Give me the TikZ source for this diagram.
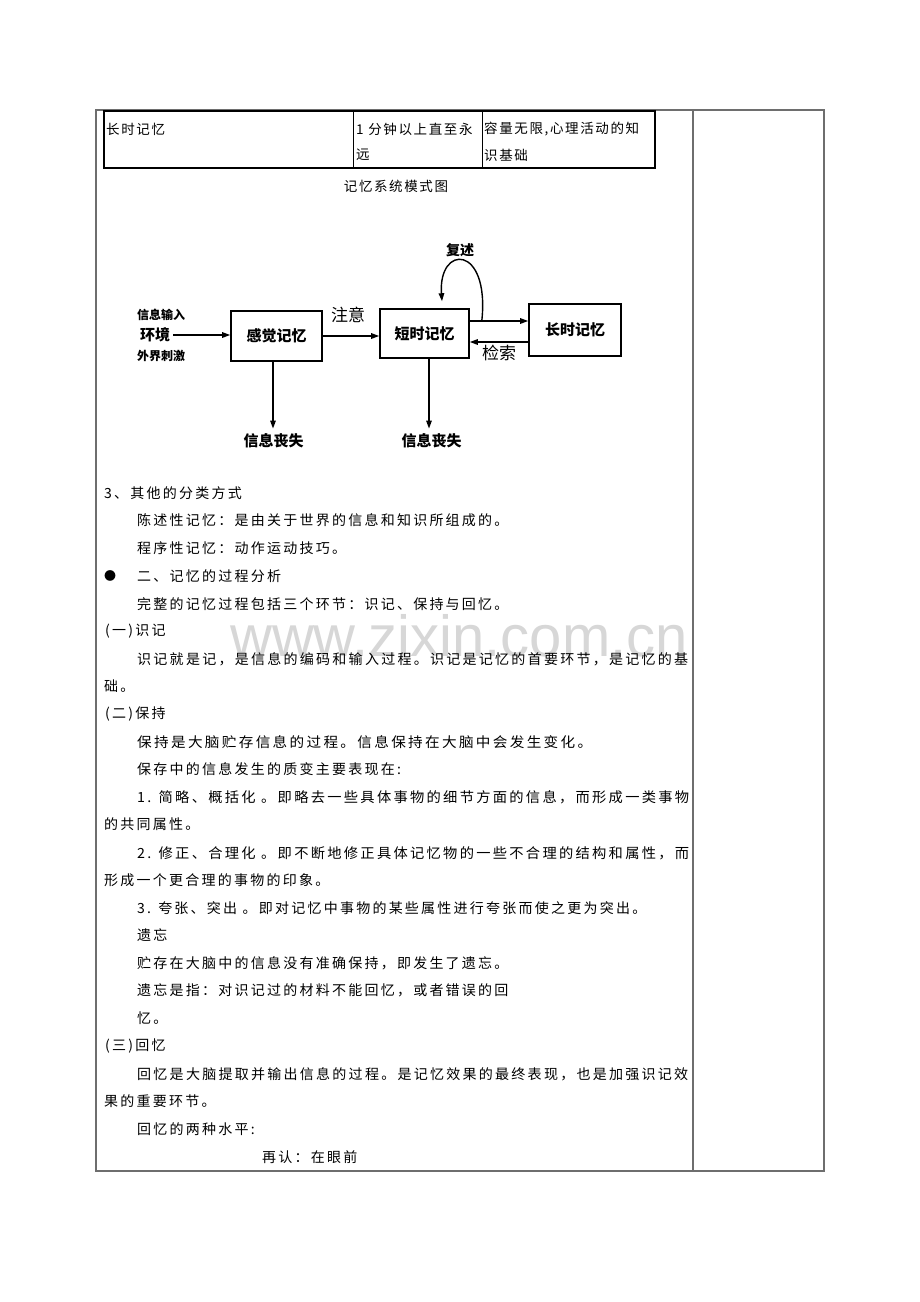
\documentclass[tikz,border=0pt]{standalone}
\usepackage{fontspec}
\usepackage{graphicx}
\setmainfont{Noto Sans CJK SC}
\newfontfamily\bodyf{Noto Sans CJK SC}[LetterSpace=16]
\newfontfamily\cellf{Noto Sans CJK SC}[LetterSpace=12]
\newfontfamily\wmf{Liberation Sans}
\usetikzlibrary{arrows.meta,calc}
\newcommand\jl[2]{\resizebox{#1}{\height}{#2}}
\newcommand\fc{\char"FF0C\relax}
\newcommand\fcl{\char"FF1A\relax}
\definecolor{rule}{RGB}{110,110,110}
\definecolor{wmgray}{RGB}{215,215,215}
\tikzset{
  txt/.style={anchor=west, inner sep=0pt, font=\bodyf\fontsize{14}{14}\selectfont},
  cell/.style={anchor=west, inner sep=0pt, font=\cellf\fontsize{13.5}{13.5}\selectfont},
  membox/.style={draw, line width=1.6pt, inner sep=0pt, font=\bfseries\fontsize{15}{15}\selectfont},
  arr/.style={line width=1.4pt, -{Triangle[length=8pt,width=5.5pt]}},
  lbl/.style={inner sep=0pt, font=\bfseries\fontsize{14}{14}\selectfont},
  biglbl/.style={inner sep=0pt, font=\fontsize{17}{17}\selectfont},
  smalllbl/.style={inner sep=0pt, font=\bfseries\fontsize{12}{12}\selectfont},
}
\begin{document}
\begin{tikzpicture}[x=1pt,y=-1pt]
\fill[white] (0,0) rectangle (920,1302);
\useasboundingbox (0,0) rectangle (920,1302);

% watermark
\node[inner sep=0pt, text=wmgray, font=\wmf\fontsize{58}{58}\selectfont] (wm) at (459,636) {www.zixin.com.cn};

% outer table
\draw[rule, line width=1.2pt] (96,110) rectangle (824,1171);
\draw[rule, line width=1.2pt] (693,110) -- (693,1171);

% inner table
\draw[line width=2.2pt] (104,111) rectangle (655,168);
\draw[line width=1pt] (353,111) -- (353,168);
\draw[line width=1pt] (482,111) -- (482,168);
\node[cell] (c1) at (106,129) {长时记忆};
\node[cell] (c2) at (356,129) {1 分钟以上直至永};
\node[cell] (c2b) at (356,155) {远};
\node[cell] (c3) at (484,129) {容量无限,心理活动的知};
\node[cell] (c3b) at (484,155) {识基础};
\node[cell, anchor=center] (cap) at (396,186) {记忆系统模式图};

% diagram
\node[membox, minimum width=91pt, minimum height=50pt] (sm) at (276.5,336) {感觉记忆};
\node[membox, minimum width=89pt, minimum height=49pt] (stm) at (424.5,333.5) {短时记忆};
\node[membox, minimum width=92pt, minimum height=52pt] (ltm) at (575,330) {长时记忆};
\node[smalllbl] (in) at (161,315) {信息输入};
\node[lbl, font=\bfseries\fontsize{15}{15}\selectfont] (env) at (155,335) {环境};
\node[smalllbl] (ext) at (161,356) {外界刺激};
\node[lbl, inner sep=2pt, font=\bfseries\fontsize{15}{15}\selectfont] (loss1) at (273.5,441) {信息丧失};
\node[lbl, inner sep=2pt, font=\bfseries\fontsize{15}{15}\selectfont] (loss2) at (431.5,441) {信息丧失};
\node[biglbl] (att) at (348,315) {注意};
\node[biglbl] (ret) at (499,353) {检索};
\node[lbl] (reh) at (460,250) {复述};

\draw[arr] ([xshift=3pt]env.east) coordinate (e1) -- (e1 -| sm.west);
\draw[arr] (sm.east) -- (sm.east -| stm.west);
\draw[arr] ([xshift=-3.5pt]sm.south) coordinate (d1) -- ([yshift=3pt]d1 |- loss1.north);
\draw[arr] ([xshift=4.5pt]stm.south) coordinate (d2) -- ([yshift=3pt]d2 |- loss2.north);
\draw[arr] ([yshift=12.5pt]stm.east) coordinate (u1) -- (u1 -| ltm.west);
\draw[arr] ([yshift=-12pt]ltm.west) coordinate (l1) -- (l1 -| stm.east);
\coordinate (ls) at ([xshift=12pt]u1);
\coordinate (le) at ([xshift=17.5pt,yshift=7pt]stm.north);
\draw[arr] (ls) .. controls (490,244) and (438,244) .. (le);

% body text
\node[txt] (t1) at (104,493) {3、其他的分类方式};
\node[txt] (t2) at (137,520) {陈述性记忆\fcl 是由关于世界的信息和知识所组成的。};
\node[txt] (t3) at (137,548) {程序性记忆\fcl 动作运动技巧。};
\node[inner sep=0pt, font=\fontsize{12}{12}\selectfont] (bul) at (110,576) {●};
\node[txt] (t4) at (137,576) {二、记忆的过程分析};
\node[txt] (t5) at (137,604) {完整的记忆过程包括三个环节\fcl 识记、保持与回忆。};
\node[txt] (t6) at (105,631) {(一)识记};
\node[txt] (t7) at (137,659) {\jl{551pt}{识记就是记\fc 是信息的编码和输入过程。识记是记忆的首要环节\fc 是记忆的基}};
\node[txt] (t8) at (104,686) {础。};
\node[txt] (t9) at (105,714) {(二)保持};
\node[txt] (t10) at (137,742) {\jl{455pt}{保持是大脑贮存信息的过程。信息保持在大脑中会发生变化。}};
\node[txt] (t11) at (137,769) {保存中的信息发生的质变主要表现在:};
\node[txt] (t12) at (137,797) {\jl{552pt}{1. 简略、概括化 。即略去一些具体事物的细节方面的信息\fc 而形成一类事物}};
\node[txt] (t13) at (104,824) {的共同属性。};
\node[txt] (t14) at (137,853) {\jl{552pt}{2. 修正、合理化 。即不断地修正具体记忆物的一些不合理的结构和属性\fc 而}};
\node[txt] (t15) at (104,880) {形成一个更合理的事物的印象。};
\node[txt] (t16) at (137,908) {3. 夸张、突出 。即对记忆中事物的某些属性进行夸张而使之更为突出。};
\node[txt] (t17) at (137,935) {遗忘};
\node[txt] (t18) at (137,963) {贮存在大脑中的信息没有准确保持\fc 即发生了遗忘。};
\node[txt] (t19) at (137,990) {遗忘是指\fcl 对识记过的材料不能回忆\fc 或者错误的回};
\node[txt] (t20) at (137,1018) {忆。};
\node[txt] (t21) at (105,1046) {(三)回忆};
\node[txt] (t22) at (137,1074) {\jl{551pt}{回忆是大脑提取并输出信息的过程。是记忆效果的最终表现\fc 也是加强识记效}};
\node[txt] (t23) at (104,1101) {果的重要环节。};
\node[txt] (t24) at (137,1129) {回忆的两种水平:};
\node[txt] (t25) at (262,1157) {再认\fcl 在眼前};
\end{tikzpicture}
\end{document}
